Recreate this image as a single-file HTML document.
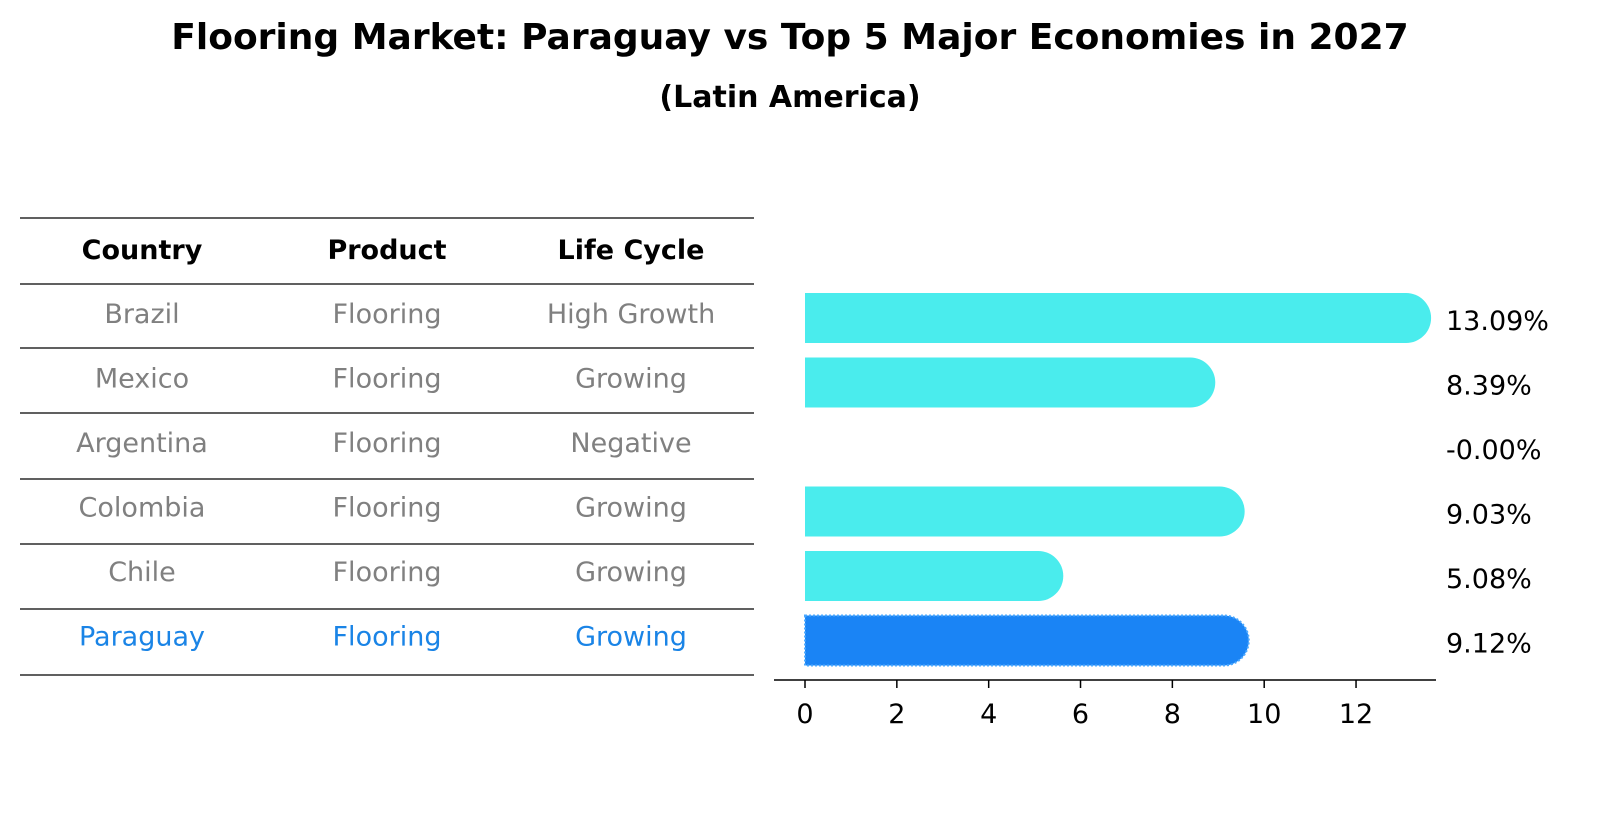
<!DOCTYPE html>
<html><head><meta charset="utf-8"><style>
body{margin:0;background:#fff;font-family:"Liberation Sans","DejaVu Sans",sans-serif}
#c{position:relative;width:1604px;height:823px}
</style></head><body>
<div id="c">
<svg id="s" width="1604" height="823" xmlns="http://www.w3.org/2000/svg" font-family="DejaVu Sans, Liberation Sans, sans-serif">
<text x="790" y="49" text-anchor="middle" font-size="36" font-weight="bold">Flooring Market: Paraguay vs Top 5 Major Economies in 2027</text>
<text x="790" y="107" text-anchor="middle" font-size="30" font-weight="bold">(Latin America)</text>
<g id="tbl"></g>
<g id="bars"></g>
</svg>
</div>
<script>
const countries=["Brazil","Mexico","Argentina","Colombia","Chile","Paraguay"];
const products=["Flooring","Flooring","Flooring","Flooring","Flooring","Flooring"];
const lifecycles=["High Growth","Growing","Negative","Growing","Growing","Growing"];
const values=[13.09,8.39,-0.00,9.03,5.08,9.12];
const ticks=[0,2,4,6,8,10,12];
const NS="http://www.w3.org/2000/svg";
function mk(tag,attrs,parent,text){const e=document.createElementNS(NS,tag);for(const k in attrs)e.setAttribute(k,attrs[k]);if(text!==undefined)e.textContent=text;parent.appendChild(e);return e;}
const tbl=document.getElementById('tbl'),bars=document.getElementById('bars');
const lineYs=[218,284,348,413,479,544,609,675];
lineYs.forEach(y=>{const l=mk('line',{x1:20,x2:754,y1:y,y2:y,stroke:'#000','stroke-width':1.2},tbl);

});
const cols=[142,387,631];
["Country","Product","Life Cycle"].forEach((h,i)=>{const t=mk('text',{x:cols[i],y:259,'text-anchor':'middle','font-size':27,'font-weight':'bold'},tbl,h);

});
const rowY=i=>318+i*64.5;
countries.forEach((c,i)=>{const col=i===countries.length-1?'#1a84e6':'#808080';
[c,products[i],lifecycles[i]].forEach((v,j)=>{const t=mk('text',{x:cols[j],y:rowY(i)+5,'text-anchor':'middle','font-size':27,fill:col},tbl,v);

});});
const x0=805,pxu=45.92,xs=v=>x0+v*pxu,h=50,r=25;
values.forEach((v,i)=>{const y=rowY(i);const last=i===values.length-1;
if(v>0){const w=xs(v)-x0;
const p=mk('path',{d:`M${x0},${y-h/2} H${x0+w} A${r},${r} 0 0 1 ${x0+w},${y+h/2} H${x0} Z`,fill:last?'#1a84f5':'#4aeced',stroke:last?'#4aa8ff':'none','stroke-dasharray':last?'2,2':'none','stroke-width':2},bars);

}
const t=mk('text',{x:1446,y:y+12,'font-size':27},bars,v.toFixed(2).replace(/^0\.00$/,'-0.00')+'%');

});
const ax=mk('line',{x1:774,x2:1436,y1:680,y2:680,stroke:'#000','stroke-width':1.5},bars);


ticks.forEach(tv=>{const tk=mk('line',{x1:xs(tv),x2:xs(tv),y1:680,y2:688,stroke:'#000','stroke-width':1.5},bars);


const tl=mk('text',{x:xs(tv),y:723,'text-anchor':'middle','font-size':27},bars,String(tv));

});
</script>
</body></html>
